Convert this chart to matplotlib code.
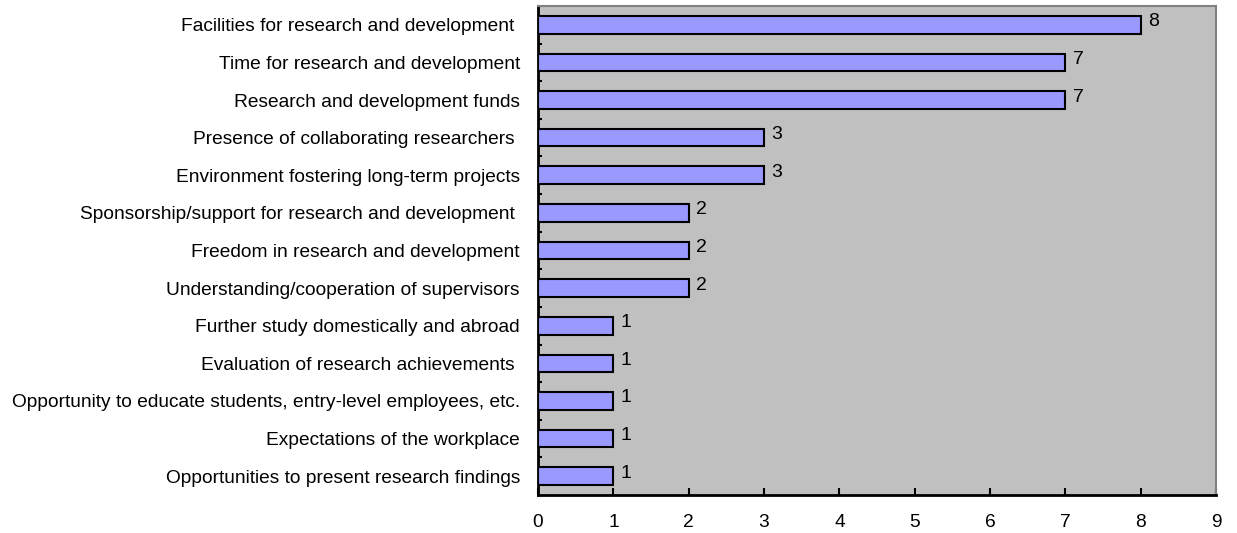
import matplotlib.pyplot as plt

plt.rcParams['font.family'] = ['Liberation Sans', 'DejaVu Sans']

# categories top to bottom
labels = [
    'Facilities for research and development ',
    'Time for research and development',
    'Research and development funds',
    'Presence of collaborating researchers ',
    'Environment fostering long-term projects',
    'Sponsorship/support for research and development ',
    'Freedom in research and development',
    'Understanding/cooperation of supervisors',
    'Further study domestically and abroad',
    'Evaluation of research achievements ',
    'Opportunity to educate students, entry-level employees, etc.',
    'Expectations of the workplace',
    'Opportunities to present research findings',
]
values = [8, 7, 7, 3, 3, 2, 2, 2, 1, 1, 1, 1, 1]

fig = plt.figure(figsize=(12.37, 5.33), dpi=100)
ax = fig.add_axes([538 / 1237, 38 / 533, 678 / 1237, 489 / 533])
ax.set_facecolor('#C0C0C0')

n = len(labels)
pos = list(range(n - 1, -1, -1))
ax.barh(pos, values, height=0.47, color='#9999FF', edgecolor='black', linewidth=1.5, zorder=3)

for p, v in zip(pos, values):
    ax.text(v + 0.1, p + 0.08, str(v), va='center', ha='left', fontsize=14)

ax.set_xlim(0, 9)
ax.set_ylim(-0.5, n - 0.5)
ax.set_xticks(range(0, 10))
ax.tick_params(axis='x', direction='in', length=5, width=1.5, labelsize=13.8, pad=14)

# category boundary ticks on the left, labels at bar centres
ax.set_yticks([i + 0.5 for i in range(n - 1)], minor=False)
ax.set_yticklabels([])
ax.set_yticks(pos, minor=True)
ax.set_yticklabels(labels, minor=True)
ax.tick_params(axis='y', which='major', direction='in', length=3, width=1.5)
ax.tick_params(axis='y', which='minor', length=0, labelsize=13.8, pad=13)

for s in ['left', 'bottom']:
    ax.spines[s].set_color('black')
    ax.spines[s].set_linewidth(2)
for s in ['top', 'right']:
    ax.spines[s].set_color('#808080')
    ax.spines[s].set_linewidth(1.5)

fig.savefig('out.png', dpi=100)
